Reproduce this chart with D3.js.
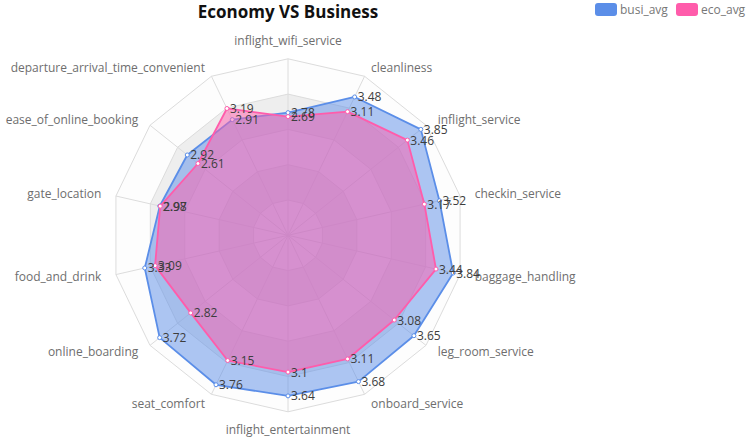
<!DOCTYPE html>
<html>
<head>
<meta charset="utf-8">
<script src="https://cdn.jsdelivr.net/npm/d3@7"></script>
<style>
  body { margin: 0; background: #fff; }
  text { font-family: "Open Sans", sans-serif; }
</style>
</head>
<body>
<script>
// indicators, counter-clockwise from the top
var indicators = ["inflight_wifi_service", "departure_arrival_time_convenient", "ease_of_online_booking",
  "gate_location", "food_and_drink", "online_boarding", "seat_comfort", "inflight_entertainment",
  "onboard_service", "leg_room_service", "baggage_handling", "checkin_service", "inflight_service", "cleanliness"];
var busiAvg = [2.78, 2.91, 2.92, 2.98, 3.33, 3.72, 3.76, 3.64, 3.68, 3.65, 3.84, 3.52, 3.85, 3.48];
var ecoAvg = [2.69, 3.19, 2.61, 2.97, 3.09, 2.82, 3.15, 3.1, 3.11, 3.08, 3.44, 3.17, 3.46, 3.11];
var seriesNames = ["busi_avg", "eco_avg"];
var seriesColors = ["#5b8ee8", "#ff5cab"];
var radarMax = 4;
var splitNumber = 5;

var width = 749, height = 439;
var cx = 288, cy = 235.3, R = 176.5;

var svg = d3.select("body").append("svg")
  .attr("width", width)
  .attr("height", height);

var rScale = d3.scaleLinear().domain([0, radarMax]).range([0, R]);
var angle = d3.scaleLinear().domain([0, indicators.length]).range([Math.PI / 2, Math.PI / 2 + 2 * Math.PI]);

function pt(i, v) {
  var a = angle(i), r = rScale(v);
  return [cx + Math.cos(a) * r, cy - Math.sin(a) * r];
}
function ring(v) {
  return indicators.map(function (d, i) { return pt(i, v); });
}
var line = d3.line();

//------------------------------ split areas + lines ------------------------------//
var levels = d3.range(1, splitNumber + 1).map(function (k) { return radarMax * k / splitNumber; });
var areaFills = ["rgba(250,250,250,0.3)", "rgba(200,200,200,0.3)"];

svg.append("g").selectAll("path")
  .data(levels)
  .enter()
  .append("path")
  .attr("d", function (v, k) {
    var outer = line(ring(v)) + "Z";
    return k === 0 ? outer : outer + line(ring(levels[k - 1])) + "Z";
  })
  .attr("fill-rule", "evenodd")
  .attr("fill", function (v, k) { return areaFills[k % 2]; });

svg.append("g").selectAll("path")
  .data(levels)
  .enter()
  .append("path")
  .attr("d", function (v) { return line(ring(v)) + "Z"; })
  .attr("fill", "none")
  .attr("stroke", "#dcdcdc")
  .attr("stroke-width", 1);

svg.append("g").selectAll("line")
  .data(indicators)
  .enter()
  .append("line")
  .attr("x1", cx).attr("y1", cy)
  .attr("x2", function (d, i) { return pt(i, radarMax)[0]; })
  .attr("y2", function (d, i) { return pt(i, radarMax)[1]; })
  .attr("stroke", "#dcdcdc")
  .attr("stroke-width", 1);

//------------------------------ indicator names ------------------------------//
svg.append("g").selectAll("text")
  .data(indicators)
  .enter()
  .append("text")
  .attr("x", function (d, i) {
    var c = Math.cos(angle(i));
    var dist = R + (Math.abs(c) < 0.01 ? 18 : 15);
    return cx + c * dist;
  })
  .attr("y", function (d, i) {
    var c = Math.cos(angle(i)), s = Math.sin(angle(i));
    var vertical = Math.abs(c) < 0.01;
    var dist = R + (vertical ? 18 : 15);
    return cy - s * dist + (vertical ? 0 : s * 5);
  })
  .attr("dominant-baseline", "central")
  .attr("text-anchor", function (d, i) {
    var c = Math.cos(angle(i));
    return Math.abs(c) < 0.01 ? "middle" : c > 0 ? "start" : "end";
  })
  .attr("font-size", 12)
  .attr("fill", "#6e6e6e")
  .text(function (d) { return d; });

//------------------------------ series ------------------------------//
var series = [busiAvg, ecoAvg];

var seriesG = svg.selectAll(".series")
  .data(series)
  .enter()
  .append("g")
  .attr("class", "series");

seriesG.append("path")
  .attr("d", function (vals) {
    return line(vals.map(function (v, i) { return pt(i, v); })) + "Z";
  })
  .attr("fill", function (vals, k) { return seriesColors[k]; })
  .attr("fill-opacity", 0.5)
  .attr("stroke", function (vals, k) { return seriesColors[k]; })
  .attr("stroke-width", 1.8)
  .attr("stroke-linejoin", "round");

seriesG.each(function (vals, k) {
  d3.select(this).selectAll("circle")
    .data(vals)
    .enter()
    .append("circle")
    .attr("cx", function (v, i) { return pt(i, v)[0]; })
    .attr("cy", function (v, i) { return pt(i, v)[1]; })
    .attr("r", 2)
    .attr("fill", "#fff")
    .attr("stroke", seriesColors[k])
    .attr("stroke-width", 1);
});

// value labels on top of both series
var labelG = svg.append("g");
series.forEach(function (vals) {
  labelG.append("g").selectAll("text")
    .data(vals)
    .enter()
    .append("text")
    .attr("x", function (v, i) { return pt(i, v)[0] + 3; })
    .attr("y", function (v, i) { return pt(i, v)[1]; })
    .attr("dominant-baseline", "central")
    .attr("font-size", 12)
    .attr("fill", "#3d3d3d")
    .text(function (v) { return v; });
});

//------------------------------ title + legend ------------------------------//
svg.append("text")
  .attr("x", cx)
  .attr("y", 18)
  .attr("text-anchor", "middle")
  .attr("font-size", 17)
  .attr("font-weight", "bold")
  .attr("fill", "#111")
  .text("Economy VS Business");

var legendX = [595, 676];
var legend = svg.selectAll(".legend")
  .data(seriesNames)
  .enter()
  .append("g")
  .attr("class", "legend")
  .attr("transform", function (d, k) { return "translate(" + legendX[k] + ",3)"; });

legend.append("rect")
  .attr("width", 22)
  .attr("height", 13)
  .attr("rx", 3)
  .attr("fill", function (d, k) { return seriesColors[k]; });

legend.append("text")
  .attr("x", 25)
  .attr("y", 6.5)
  .attr("dominant-baseline", "central")
  .attr("font-size", 12)
  .attr("fill", "#777")
  .text(function (d) { return d; });
</script>
</body>
</html>
